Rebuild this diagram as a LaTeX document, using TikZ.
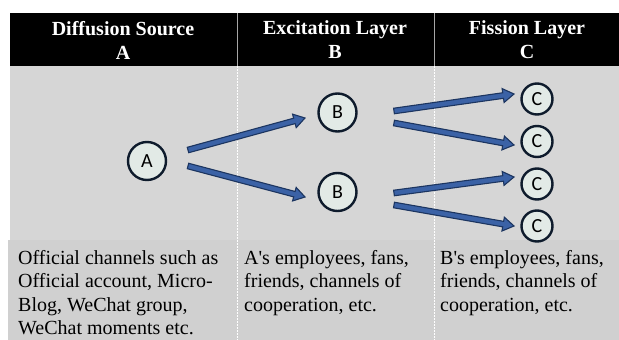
\documentclass[tikz,border=0pt]{standalone}
\usepackage{fontspec}
\newfontfamily\textface{Liberation Serif}
\newfontfamily\circfont{Carlito}
\usetikzlibrary{calc}

\definecolor{panelgray}{HTML}{D6D6D6}
\definecolor{rowgray}{HTML}{D0D0D0}
\definecolor{arrowfill}{HTML}{3B62A6}
\definecolor{arrowline}{HTML}{1C3560}
\definecolor{nodefill}{HTML}{E2EAE6}
\definecolor{nodeline}{HTML}{0E1B2C}

% block arrow from #1 to #2, #3 names its head base
\newcommand\fatarrow[3]{%
  \coordinate (#3h) at ($(#2)!11pt!(#1)$);
  \filldraw[arrowbody]
    ($(#1)!2.8pt!90:(#2)$) -- ($(#3h)!2.8pt!90:(#2)$) -- ($(#3h)!7pt!90:(#2)$) --
    (#2) --
    ($(#3h)!7pt!-90:(#2)$) -- ($(#3h)!2.8pt!-90:(#2)$) -- ($(#1)!2.8pt!-90:(#2)$) -- cycle;}

\begin{document}
\begin{tikzpicture}[x=1pt,y=-1pt,
  head/.style={text=white, font=\textface\bfseries\fontsize{20pt}{24pt}\selectfont, align=center, inner sep=0},
  body/.style={font=\textface\fontsize{20pt}{23.5pt}\selectfont, align=left, inner sep=0, anchor=north west},
  bignode/.style={circle, draw=nodeline, line width=2.4pt, fill=nodefill, minimum size=38pt, inner sep=0, font=\circfont\fontsize{20pt}{22pt}\selectfont},
  smallnode/.style={bignode, minimum size=31pt},
  arrowbody/.style={fill=arrowfill, draw=arrowline, line width=1.1pt, line join=miter},
  divider/.style={white, line width=0.6pt, dash pattern=on 2pt off 1pt}
]
\useasboundingbox (0,0) rectangle (619,340);
\fill[white] (0,0) rectangle (619,340);

% body panels
\fill[panelgray] (10,66) rectangle (619,240);
\fill[rowgray] (8,240) rectangle (619,340);
\draw[divider] (237,66) -- (237,340);
\draw[divider] (434,66) -- (434,340);

% header band
\fill[black] (10,13) rectangle (619,66);
\draw[gray!70, line width=0.8pt] (237,13) -- (237,66);
\draw[gray!70, line width=0.8pt] (434,13) -- (434,66);

% descriptions
\node[body] (tA) at (18,250) {Official channels such as\\Official account, Micro-\\Blog, WeChat group,\\WeChat moments etc.};
\node[body] (tB) at (244,250) {A\textquotesingle s employees, fans,\\friends, channels of\\cooperation, etc.};
\node[body] (tC) at (440,250) {B\textquotesingle s employees, fans,\\friends, channels of\\cooperation, etc.};

\node[head] (hA) at (123,40) {Diffusion Source\\A};
\node[head] (hB) at (335,40) {Excitation Layer\\B};
\node[head] (hC) at (527,40) {Fission Layer\\C};

% spreading graph
\node[bignode] (A) at (147,161) {A};
\node[bignode] (B1) at (337.5,112.5) {B};
\node[bignode] (B2) at (337.5,192) {B};
\node[smallnode] (C1) at (537,99) {C};
\node[smallnode] (C2) at (537,141.5) {C};
\node[smallnode] (C3) at (537,184) {C};
\node[smallnode] (C4) at (537,226) {C};

\coordinate (ab1s) at ($(A)+(41,-11)$);
\coordinate (ab1e) at ($(B1)+(-32.5,5.5)$);
\coordinate (ab2s) at ($(A)+(41,5)$);
\coordinate (ab2e) at ($(B2)+(-32.5,5)$);
\coordinate (bc1s) at ($(B1)+(56.5,-1.5)$);
\coordinate (bc1e) at ($(C1)+(-23,-5)$);
\coordinate (bc2s) at ($(B1)+(56.5,10.5)$);
\coordinate (bc2e) at ($(C2)+(-23,3.5)$);
\coordinate (bc3s) at ($(B2)+(56.5,1)$);
\coordinate (bc3e) at ($(C3)+(-23,-7)$);
\coordinate (bc4s) at ($(B2)+(56.5,13)$);
\coordinate (bc4e) at ($(C4)+(-23,0)$);

\fatarrow{ab1s}{ab1e}{ab1}
\fatarrow{ab2s}{ab2e}{ab2}
\fatarrow{bc1s}{bc1e}{bc1}
\fatarrow{bc2s}{bc2e}{bc2}
\fatarrow{bc3s}{bc3e}{bc3}
\fatarrow{bc4s}{bc4e}{bc4}
\end{tikzpicture}
\end{document}
